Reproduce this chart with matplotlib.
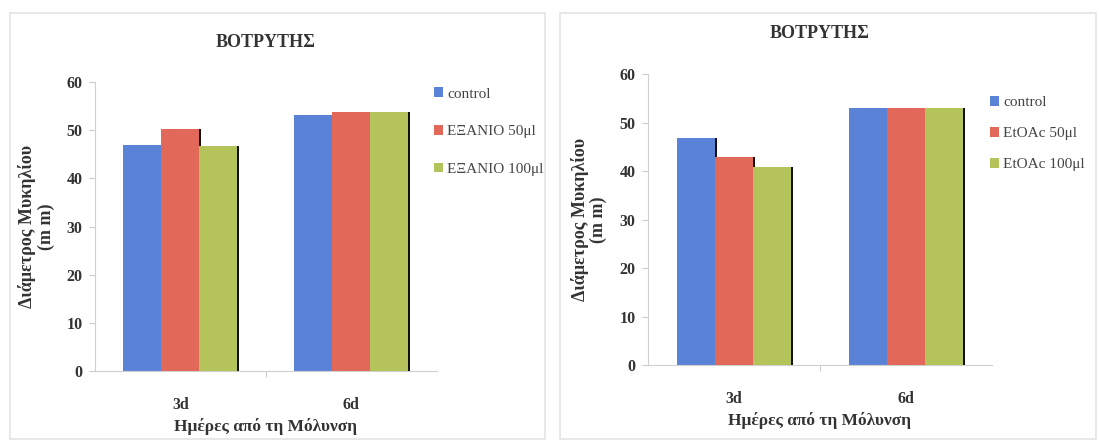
import matplotlib.pyplot as plt
import numpy as np
from matplotlib.patches import Rectangle

days = ['3d', '6d']
title = 'ΒΟΤΡΥΤΗΣ'
xlab = 'Ημέρες από τη Μόλυνση'
ylab = 'Διάμετρος Μυκηλίου\n(m m)'

# left panel: hexane extract
hexLabels = ['control', 'ΕΞΑΝΙΟ 50μl', 'ΕΞΑΝΙΟ 100μl']
hexControl = [47.0, 53.2]
hex50 = [50.2, 53.7]
hex100 = [46.8, 53.7]

# right panel: ethyl acetate extract
etLabels = ['control', 'EtOAc 50μl', 'EtOAc 100μl']
etControl = [46.8, 53.0]
et50 = [42.9, 53.0]
et100 = [40.8, 53.0]

yticks = [0, 10, 20, 30, 40, 50, 60]
colors = ['#5a83d8', '#e2685a', '#b4c35a']
txt = '#333333'

plt.rcParams['font.family'] = ['Liberation Serif', 'DejaVu Serif']

fig = plt.figure(figsize=(10.99, 4.46), dpi=100)

# light panel frames
for x0 in [0.009, 0.510]:
    fig.patches.append(Rectangle((x0, 0.015), 0.487, 0.955, transform=fig.transFigure,
                                 fill=False, ec='#e4e4e4', lw=1.2))


def drawPanel(rect, series, labels, legAnchor, legSpacing, titleY, ylabX):
    ax = fig.add_axes(rect)
    x = np.arange(len(days))
    w = 0.222
    for i, vals in enumerate(series):
        pos = x + (i - 1) * w
        # thin dark shadow on the right side of each bar
        ax.bar(pos + 0.012, vals, w, color='#111111', zorder=1 + 2 * i)
        ax.bar(pos, vals, w, color=colors[i], label=labels[i], zorder=2 + 2 * i)

    ax.set_xlim(-0.5, 1.5)
    ax.set_ylim(0, 60)
    ax.set_yticks(yticks)
    ax.set_yticklabels([str(t) for t in yticks], fontsize=11.5, fontweight='bold', color=txt)
    ax.set_xticks([0.5])
    ax.set_xticklabels([''])
    ax.set_xticks(x, minor=True)
    ax.set_xticklabels(days, minor=True, fontsize=11.5, fontweight='bold', color=txt)
    ax.tick_params(axis='x', which='minor', length=0, pad=19)
    ax.tick_params(axis='x', which='major', length=4, color='#cccccc')
    ax.tick_params(axis='y', length=4, color='#cccccc', pad=5)
    for s in ['top', 'right']:
        ax.spines[s].set_visible(False)
    for s in ['left', 'bottom']:
        ax.spines[s].set_color('#d0d0d0')

    ax.set_xlabel(xlab, fontsize=12.5, fontweight='bold', color=txt, labelpad=3)
    ax.set_ylabel(ylab, fontsize=13, fontweight='bold', color=txt, linespacing=1.1)
    ax.yaxis.set_label_coords(ylabX, 0.5)
    fig.text(rect[0] + rect[2] * 0.5, titleY, title, ha='center', va='center',
             fontsize=13, fontweight='bold', color=txt)

    leg = ax.legend(loc='upper left', bbox_to_anchor=legAnchor,
                    bbox_transform=fig.transFigure, frameon=False,
                    handlelength=0.6, handleheight=0.6, handletextpad=0.3,
                    labelspacing=legSpacing, fontsize=11)
    for t in leg.get_texts():
        t.set_color('#444444')
    return ax


drawPanel([0.0864, 0.168, 0.311, 0.648], [hexControl, hex50, hex100], hexLabels,
          (0.382, 0.835), 1.6, 0.905, -0.118)
drawPanel([0.5896, 0.1816, 0.313, 0.652], [etControl, et50, et100], etLabels,
          (0.888, 0.815), 1.15, 0.925, -0.118)

fig.savefig('out.png', dpi=100)
